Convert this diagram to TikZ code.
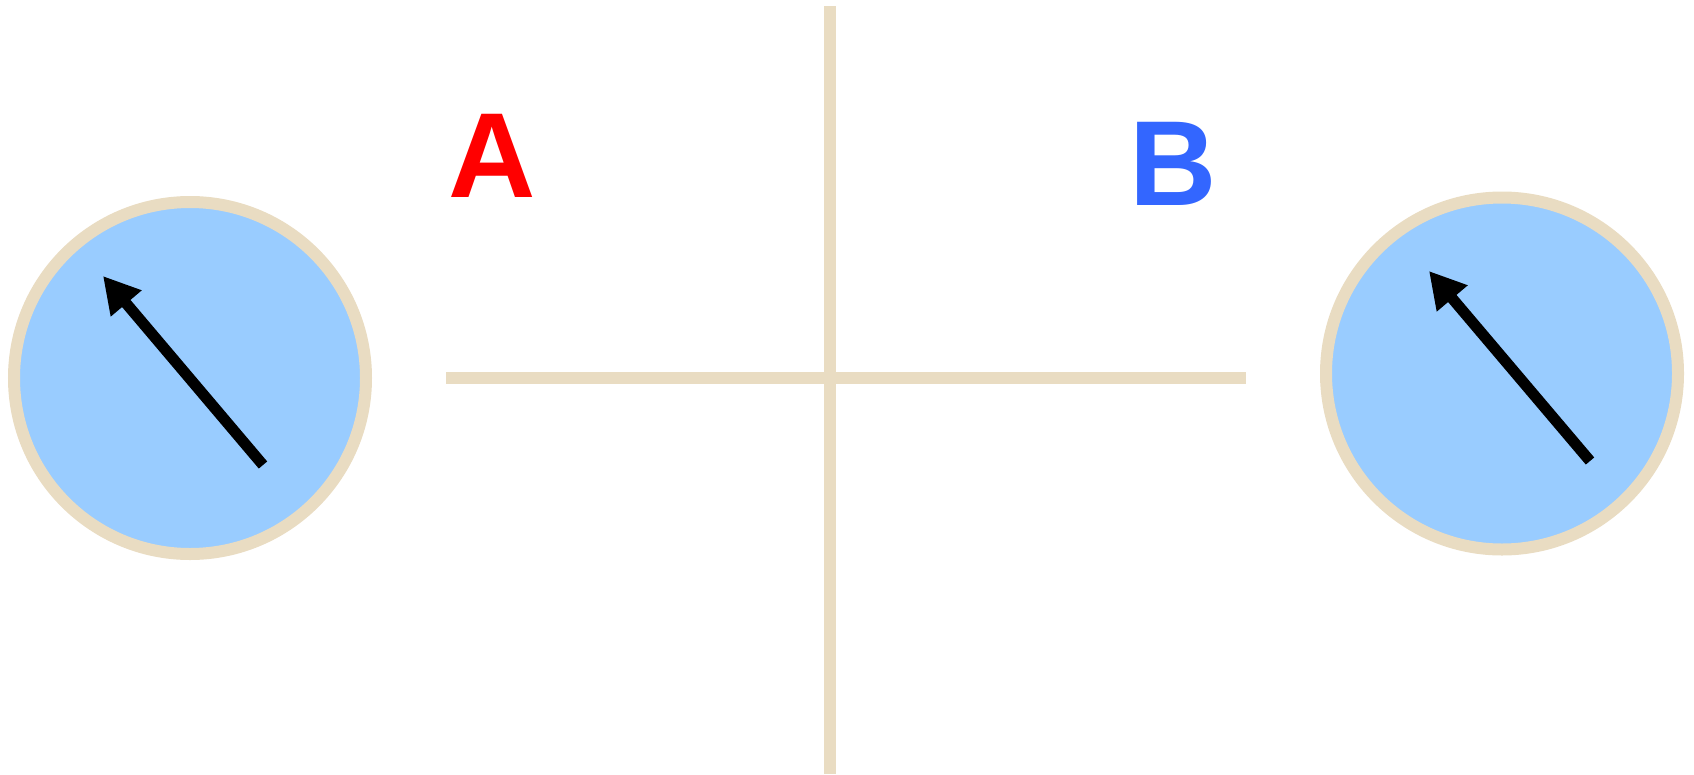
\documentclass[tikz,border=0pt]{standalone}
\usepackage{fontspec}
\setmainfont{Liberation Sans}
\usetikzlibrary{arrows.meta}
\definecolor{tan}{HTML}{E9DCC2}
\definecolor{disc}{HTML}{99CCFF}
\definecolor{bblue}{HTML}{3366FF}
\tikzset{
  wheel/.style={circle, draw=tan, line width=12pt, fill=disc, minimum size=352pt, inner sep=0pt},
  axisline/.style={draw=tan, line width=12pt},
  pointer/.style={draw=black, line width=11pt, -{Triangle[length=36pt,width=38pt]}},
  letter/.style={font=\fontsize{121}{124}\selectfont\bfseries, inner sep=0pt, anchor=base}
}
\begin{document}
\begin{tikzpicture}[x=1pt,y=-1pt]
\useasboundingbox (0,0) rectangle (1694,774);
\coordinate (vtop) at (830,6);
\coordinate (vbot) at (830,774);
\coordinate (hl) at (446,378);
\coordinate (hr) at (1246,378);
\draw[axisline] (vtop) -- (vbot);
\draw[axisline] (hl) -- (hr);
\node[wheel] (cl) at (190,378) {};
\node[wheel] (cr) at (1502,373.5) {};
\coordinate (lt) at (263,465);
\coordinate (lh) at (103,276);
\coordinate (rt) at (1590,461);
\coordinate (rh) at (1429,271);
\draw[pointer] (lt) -- (lh);
\draw[pointer] (rt) -- (rh);
\node[letter, text=red] (A) at (492,197) {A};
\node[letter, text=bblue] (B) at (1173,205) {B};
\end{tikzpicture}
\end{document}
